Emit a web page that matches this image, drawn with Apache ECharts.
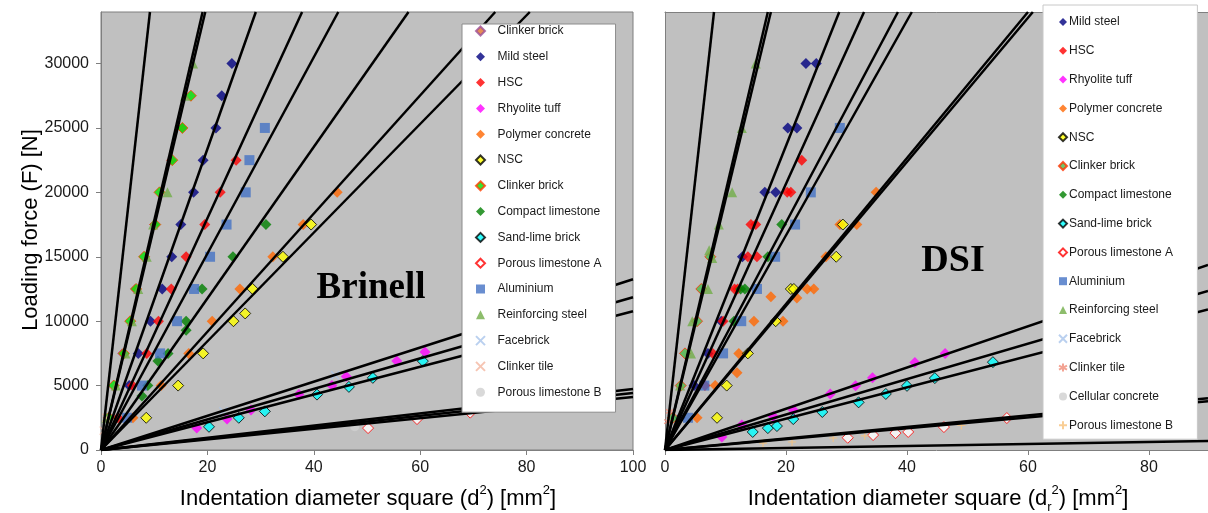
<!DOCTYPE html>
<html>
<head>
<meta charset="utf-8">
<script src="https://cdn.jsdelivr.net/npm/echarts@6/dist/echarts.min.js"></script>
<style>
  html, body { margin: 0; padding: 0; background: #fff; }
  #main { width: 1208px; height: 513px; }
</style>
</head>
<body>
<div id="main"></div>
<script>
// ---- Brinell (left) measured points [d^2, F] ----
const clinkerBrickA_B = [[4.0,7500],[6.4,12500],[10.0,17500],[13.2,22500],[15.2,25000]];
const mildSteel_B = [[5.3,5000],[7.0,7500],[9.3,10000],[11.5,12500],[13.3,15000],[15.0,17500],[17.4,20000],[19.2,22500],[21.6,25000],[22.7,27500],[24.6,30000]];
const hsc_B = [[3.2,2500],[5.9,5000],[8.6,7500],[10.8,10000],[13.2,12500],[16.0,15000],[19.5,17500],[22.4,20000],[25.4,22500]];
const rhyolite_B = [[18.0,1700],[23.7,2400],[28.2,3100],[37.2,4300],[43.4,5000],[46.1,5700],[55.6,6900],[60.9,7600]];
const polymer_B = [[6.0,2500],[11.3,5000],[16.5,7500],[20.9,10000],[26.1,12500],[32.3,15000],[38.0,17500],[44.4,20000]];
const nsc_B = [[8.5,2500],[14.5,5000],[19.2,7500],[24.9,10000],[27.1,10600],[28.5,12500],[34.2,15000],[39.5,17500]];
const clinkerBrick_B = [[1.5,2500],[2.4,5000],[4.3,7500],[5.5,10000],[6.6,12500],[8.1,15000],[10.2,17500],[11.0,20000],[13.4,22500],[15.3,25000],[16.9,27500]];
const compact_B = [[7.7,4200],[8.8,5000],[10.7,6900],[12.6,7500],[16.0,9300],[16.0,10000],[19.0,12500],[24.8,15000],[31.0,17500]];
const sandLime_B = [[20.3,1800],[25.9,2500],[30.8,3000],[40.6,4300],[46.6,4900],[51.1,5600],[60.5,6900]];
const porousA_B = [[50.2,1700],[59.4,2400],[69.4,2900]];
const aluminium_B = [[4.9,2500],[7.7,5000],[11.1,7500],[14.3,10000],[17.5,12500],[20.5,15000],[23.6,17500],[27.2,20000],[27.9,22500],[30.8,25000]];
const reinforcing_B = [[1.0,2500],[2.8,5000],[4.6,7500],[5.8,10000],[7.0,12500],[8.6,15000],[9.8,17500],[12.5,20000],[15.8,27500],[17.3,30000]];
const facebrick_B = [[23.0,3000],[44.0,5800]];
const clinkerTile_B = [[0.5,1500],[1.0,2500]];
const porousB_B = [[47.7,1800]];
// fitted lines (origin -> end point where they leave the frame)
const linesB = [[9.2,34000],[19.1,34000],[19.6,34000],[29.1,34000],[37.8,34000],[44.6,34000],[57.8,34000],[74.1,34000],[80.6,34000],
  [100,13250],[100,11860],[100,10770],[100,4730],[100,4420],[100,4110]];

// ---- DSI (right) measured points [dr^2, F] ----
const mildSteel_D = [[2.5,2500],[4.8,5000],[7.1,7500],[9.3,10000],[12.8,15000],[16.5,20000],[18.3,20000],[20.3,25000],[21.8,25000],[23.3,30000],[25.0,30000]];
const hsc_D = [[6.6,5000],[7.9,7500],[9.6,10000],[11.5,12500],[12.0,12500],[13.7,15000],[15.2,15000],[14.2,17500],[15.0,17500],[20.2,20000],[20.8,20000],[22.6,22500]];
const rhyolite_D = [[9.4,1000],[12.7,1950],[17.9,2600],[21.2,3100],[27.3,4350],[31.5,4980],[34.3,5600],[41.3,6800],[46.3,7500]];
const polymer_D = [[5.3,2500],[8.3,5000],[11.9,6000],[12.2,7500],[14.7,10000],[19.5,10000],[17.5,11900],[21.8,11800],[23.5,12500],[24.6,12500],[26.6,15000],[28.9,17500],[31.7,17500],[34.9,20000]];
const nsc_D = [[8.6,2500],[10.2,5000],[13.7,7500],[18.3,10000],[20.8,12500],[21.3,12500],[28.3,15000],[29.4,17500]];
const clinkerBrick_D = [[1.3,2500],[2.6,5000],[3.3,7500],[5.3,10000],[6.0,12500],[7.5,15000]];
const compact_D = [[11.4,10000],[12.5,12500],[13.2,12500],[17.0,15000],[19.3,17500]];
const sandLime_D = [[14.5,1400],[17.0,1700],[18.5,1860],[21.2,2400],[26.0,2950],[32.0,3700],[36.5,4350],[40.0,4980],[44.6,5580],[54.2,6820]];
const porousA_D = [[30.2,950],[34.4,1160],[38.1,1310],[40.2,1400],[46.1,1780],[56.5,2480]];
const aluminium_D = [[3.8,2500],[6.5,5000],[9.6,7500],[12.6,10000],[15.2,12500],[18.2,15000],[21.5,17500],[24.1,20000],[28.9,25000]];
const reinforcing_D = [[2.5,5000],[4.3,7500],[4.5,10000],[7.1,12500],[7.8,14900],[7.3,15500],[8.9,17500],[11.1,20000],[12.7,25000],[15.0,30000]];
const facebrick_D = [];
const clinkerTile_D = [[0.5,2200],[0.8,3000]];
const cellular_D = [];
const porousB_D = [[16.2,540],[21.0,620],[27.8,930],[33.0,1100],[49.0,1900]];
const linesD = [[8.1,34000],[17.0,34000],[17.5,34000],[28.8,34000],[32.9,34000],[38.5,34000],[40.8,34000],[60.0,34000],[60.8,34000],
  [89.75,14360],[89.75,12350],[89.75,10910],[89.75,4020],[89.75,3790],[89.75,700]];

const xTicksB = [0, 20, 40, 60, 80, 100];
const xTicksD = [0, 20, 40, 60, 80];
const yTicks = [0, 5000, 10000, 15000, 20000, 25000, 30000];

// marker styles
const X_PATH = 'path://M0,0L10,10M10,0L0,10';
const STAR_PATH = 'path://M5,0L5,10M0,2.5L10,7.5M10,2.5L0,7.5';
const PLUS_PATH = 'path://M5,0L5,10M0,5L10,5';
const NB = '\u00A0'; // keeps duplicate legend names apart

function sc(name, data, sym, color, border, size, gi) {
  const lineLike = sym.indexOf('path://') === 0;
  return {
    type: 'scatter', name: name, data: data, xAxisIndex: gi, yAxisIndex: gi,
    symbol: sym, symbolSize: size, z: 2,
    itemStyle: lineLike
      ? { color: 'rgba(0,0,0,0)', borderColor: color, borderWidth: 1.2 }
      : { color: color, borderColor: border || color, borderWidth: border ? 1 : 0 }
  };
}

const seriesB = [
  sc('Clinker brick', clinkerBrickA_B, 'diamond', '#E0702A', '#9B4F96', 9, 0),
  sc('Mild steel', mildSteel_B, 'diamond', '#000080', null, 11, 0),
  sc('HSC', hsc_B, 'diamond', '#FF0000', null, 11, 0),
  sc('Rhyolite tuff', rhyolite_B, 'diamond', '#FF00FF', null, 11, 0),
  sc('Polymer concrete', polymer_B, 'diamond', '#FF6600', null, 11, 0),
  sc('NSC', nsc_B, 'diamond', '#FFFF00', '#000000', 11, 0),
  sc('Clinker brick' + NB, clinkerBrick_B, 'diamond', '#00E000', '#FF4000', 11, 0),
  sc('Compact limestone', compact_B, 'diamond', '#008000', null, 11, 0),
  sc('Sand-lime brick', sandLime_B, 'diamond', '#00FFFF', '#000000', 11, 0),
  sc('Porous limestone A', porousA_B, 'diamond', '#FFFFFF', '#FF0000', 11, 0),
  sc('Aluminium', aluminium_B, 'rect', '#4472C4', null, 10, 0),
  sc('Reinforcing steel', reinforcing_B, 'triangle', '#70AD47', null, 10, 0),
  sc('Facebrick', facebrick_B, X_PATH, '#A9C4EB', null, 8, 0),
  sc('Clinker tile', clinkerTile_B, X_PATH, '#F4B6A0', null, 8, 0),
  sc('Porous limestone B', porousB_B, 'circle', '#CFCFCF', null, 9, 0)
];

const seriesD = [
  sc('Mild steel' + NB, mildSteel_D, 'diamond', '#000080', null, 11, 1),
  sc('HSC' + NB, hsc_D, 'diamond', '#FF0000', null, 11, 1),
  sc('Rhyolite tuff' + NB, rhyolite_D, 'diamond', '#FF00FF', null, 11, 1),
  sc('Polymer concrete' + NB, polymer_D, 'diamond', '#FF6600', null, 11, 1),
  sc('NSC' + NB, nsc_D, 'diamond', '#FFFF00', '#000000', 11, 1),
  sc('Clinker brick' + NB + NB, clinkerBrick_D, 'diamond', '#4CB848', '#FF3300', 11, 1),
  sc('Compact limestone' + NB, compact_D, 'diamond', '#008000', null, 11, 1),
  sc('Sand-lime brick' + NB, sandLime_D, 'diamond', '#00FFFF', '#000000', 11, 1),
  sc('Porous limestone A' + NB, porousA_D, 'diamond', '#FFFFFF', '#FF0000', 11, 1),
  sc('Aluminium' + NB, aluminium_D, 'rect', '#4472C4', null, 10, 1),
  sc('Reinforcing steel' + NB, reinforcing_D, 'triangle', '#70AD47', null, 10, 1),
  sc('Facebrick' + NB, facebrick_D, X_PATH, '#A9C4EB', null, 8, 1),
  sc('Clinker tile' + NB, clinkerTile_D, STAR_PATH, '#F08C78', null, 8, 1),
  sc('Cellular concrete', cellular_D, 'circle', '#CFCFCF', null, 9, 1),
  sc('Porous limestone B' + NB, porousB_D, PLUS_PATH, '#F7C27A', null, 8, 1)
];

function fitLines(ends, gi) {
  return ends.map(function (e, i) {
    return {
      type: 'line', name: 'fit' + gi + '_' + i, data: [[0, 0], e],
      xAxisIndex: gi, yAxisIndex: gi, symbol: 'none', silent: true, z: 3,
      lineStyle: { color: '#000', width: 2.5 }
    };
  });
}

const axisGray = '#7F7F7F';
const tickFont = { fontFamily: 'Liberation Sans, Arial', fontSize: 16, color: '#1a1a1a' };

function xAxis(gi, max, ticks) {
  return {
    type: 'value', gridIndex: gi, min: 0, max: max, interval: 20,
    axisLine: { show: true, lineStyle: { color: axisGray, width: 1 } },
    axisTick: { show: true, inside: false, length: 5, customValues: ticks, lineStyle: { color: axisGray } },
    axisLabel: Object.assign({ margin: 10, customValues: ticks,
      formatter: function (v) { return ticks.indexOf(v) >= 0 ? String(v) : ''; } }, tickFont),
    splitLine: { show: false }
  };
}
function yAxis(gi, showLabels) {
  return {
    type: 'value', gridIndex: gi, min: 0, max: 34000, interval: 5000,
    axisLine: { show: true, lineStyle: { color: axisGray, width: 1 } },
    axisTick: { show: showLabels, inside: false, length: 5, customValues: yTicks, lineStyle: { color: axisGray } },
    axisLabel: Object.assign({ show: showLabels, margin: 12, customValues: yTicks,
      formatter: function (v) { return yTicks.indexOf(v) >= 0 ? String(v) : ''; } }, tickFont),
    splitLine: { show: false }
  };
}
// top frame line of the DSI panel (its right side runs off the picture)
const topFrameD = {
  type: 'value', gridIndex: 1, position: 'top', min: 0, max: 89.75,
  axisLine: { show: true, lineStyle: { color: axisGray, width: 1 } },
  axisTick: { show: false }, axisLabel: { show: false }, splitLine: { show: false }
};

const legendText = { fontFamily: 'Liberation Sans, Arial', fontSize: 12, color: '#1a1a1a' };

const chart = echarts.init(document.getElementById('main'), null, { renderer: 'canvas' });
chart.setOption({
  animation: false,
  backgroundColor: '#ffffff',
  grid: [
    { left: 101, top: 12, width: 532, height: 438, show: true, backgroundColor: '#C0C0C0', borderColor: axisGray, borderWidth: 1 },
    { left: 665, top: 12, right: 0, height: 438, show: true, backgroundColor: '#C0C0C0', borderWidth: 0 }
  ],
  xAxis: [xAxis(0, 100, xTicksB), xAxis(1, 89.75, xTicksD), topFrameD],
  yAxis: [yAxis(0, true), yAxis(1, false)],
  legend: [
    {
      data: seriesB.map(function (s) { return s.name; }),
      orient: 'vertical', left: 462, top: 24, selectedMode: false,
      itemWidth: 9, itemHeight: 9, itemGap: 13.8,
      padding: [1, 14, 14, 13],
      backgroundColor: '#FFFFFF', borderColor: '#8C8C8C', borderWidth: 1,
      textStyle: Object.assign({ padding: [0, 0, 0, 7.5] }, legendText)
    },
    {
      data: seriesD.map(function (s) { return s.name; }),
      orient: 'vertical', left: 1043, top: 5, selectedMode: false,
      itemWidth: 8, itemHeight: 8, itemGap: 16.8,
      padding: [11, 21, 8, 15],
      backgroundColor: '#FFFFFF', borderColor: '#C8C8C8', borderWidth: 1,
      textStyle: Object.assign({ padding: [0, 0, 0, -3] }, legendText)
    }
  ],
  graphic: [
    { type: 'text', x: 371, y: 288, z: 10,
      style: { text: 'Brinell', font: 'bold 37px "Liberation Serif", "Times New Roman", serif', fill: '#000', textAlign: 'center', textVerticalAlign: 'middle' } },
    { type: 'text', x: 953, y: 261, z: 10,
      style: { text: 'DSI', font: 'bold 38px "Liberation Serif", "Times New Roman", serif', fill: '#000', textAlign: 'center', textVerticalAlign: 'middle' } },
    { type: 'text', x: 31, y: 230, rotation: Math.PI / 2, z: 10,
      style: { text: 'Loading force (F) [N]', font: '22px "Liberation Sans", Arial, sans-serif', fill: '#000', textAlign: 'center', textVerticalAlign: 'middle' } },
    { type: 'text', x: 368, y: 497, z: 10,
      style: {
        text: '{a|Indentation diameter square (d}{sup|2}{a|) [mm}{sup|2}{a|]}',
        textAlign: 'center', textVerticalAlign: 'middle',
        rich: {
          a: { fontFamily: 'Liberation Sans, Arial', fontSize: 22, lineHeight: 26, color: '#000', verticalAlign: 'bottom' },
          sup: { fontFamily: 'Liberation Sans, Arial', fontSize: 13, lineHeight: 13, color: '#000', verticalAlign: 'top' }
        }
      } },
    { type: 'text', x: 938, y: 497, z: 10,
      style: {
        text: '{a|Indentation diameter square (d}{sub|r}{sup|2}{a|) [mm}{sup|2}{a|]}',
        textAlign: 'center', textVerticalAlign: 'middle',
        rich: {
          a: { fontFamily: 'Liberation Sans, Arial', fontSize: 22, lineHeight: 26, color: '#000', verticalAlign: 'bottom' },
          sup: { fontFamily: 'Liberation Sans, Arial', fontSize: 13, lineHeight: 13, color: '#000', verticalAlign: 'top' },
          sub: { fontFamily: 'Liberation Sans, Arial', fontSize: 13, lineHeight: 13, color: '#000', verticalAlign: 'bottom', padding: [0, 0, -4, 0] }
        }
      } }
  ],
  series: seriesB.concat(seriesD, fitLines(linesB, 0), fitLines(linesD, 1))
});
</script>
</body>
</html>
